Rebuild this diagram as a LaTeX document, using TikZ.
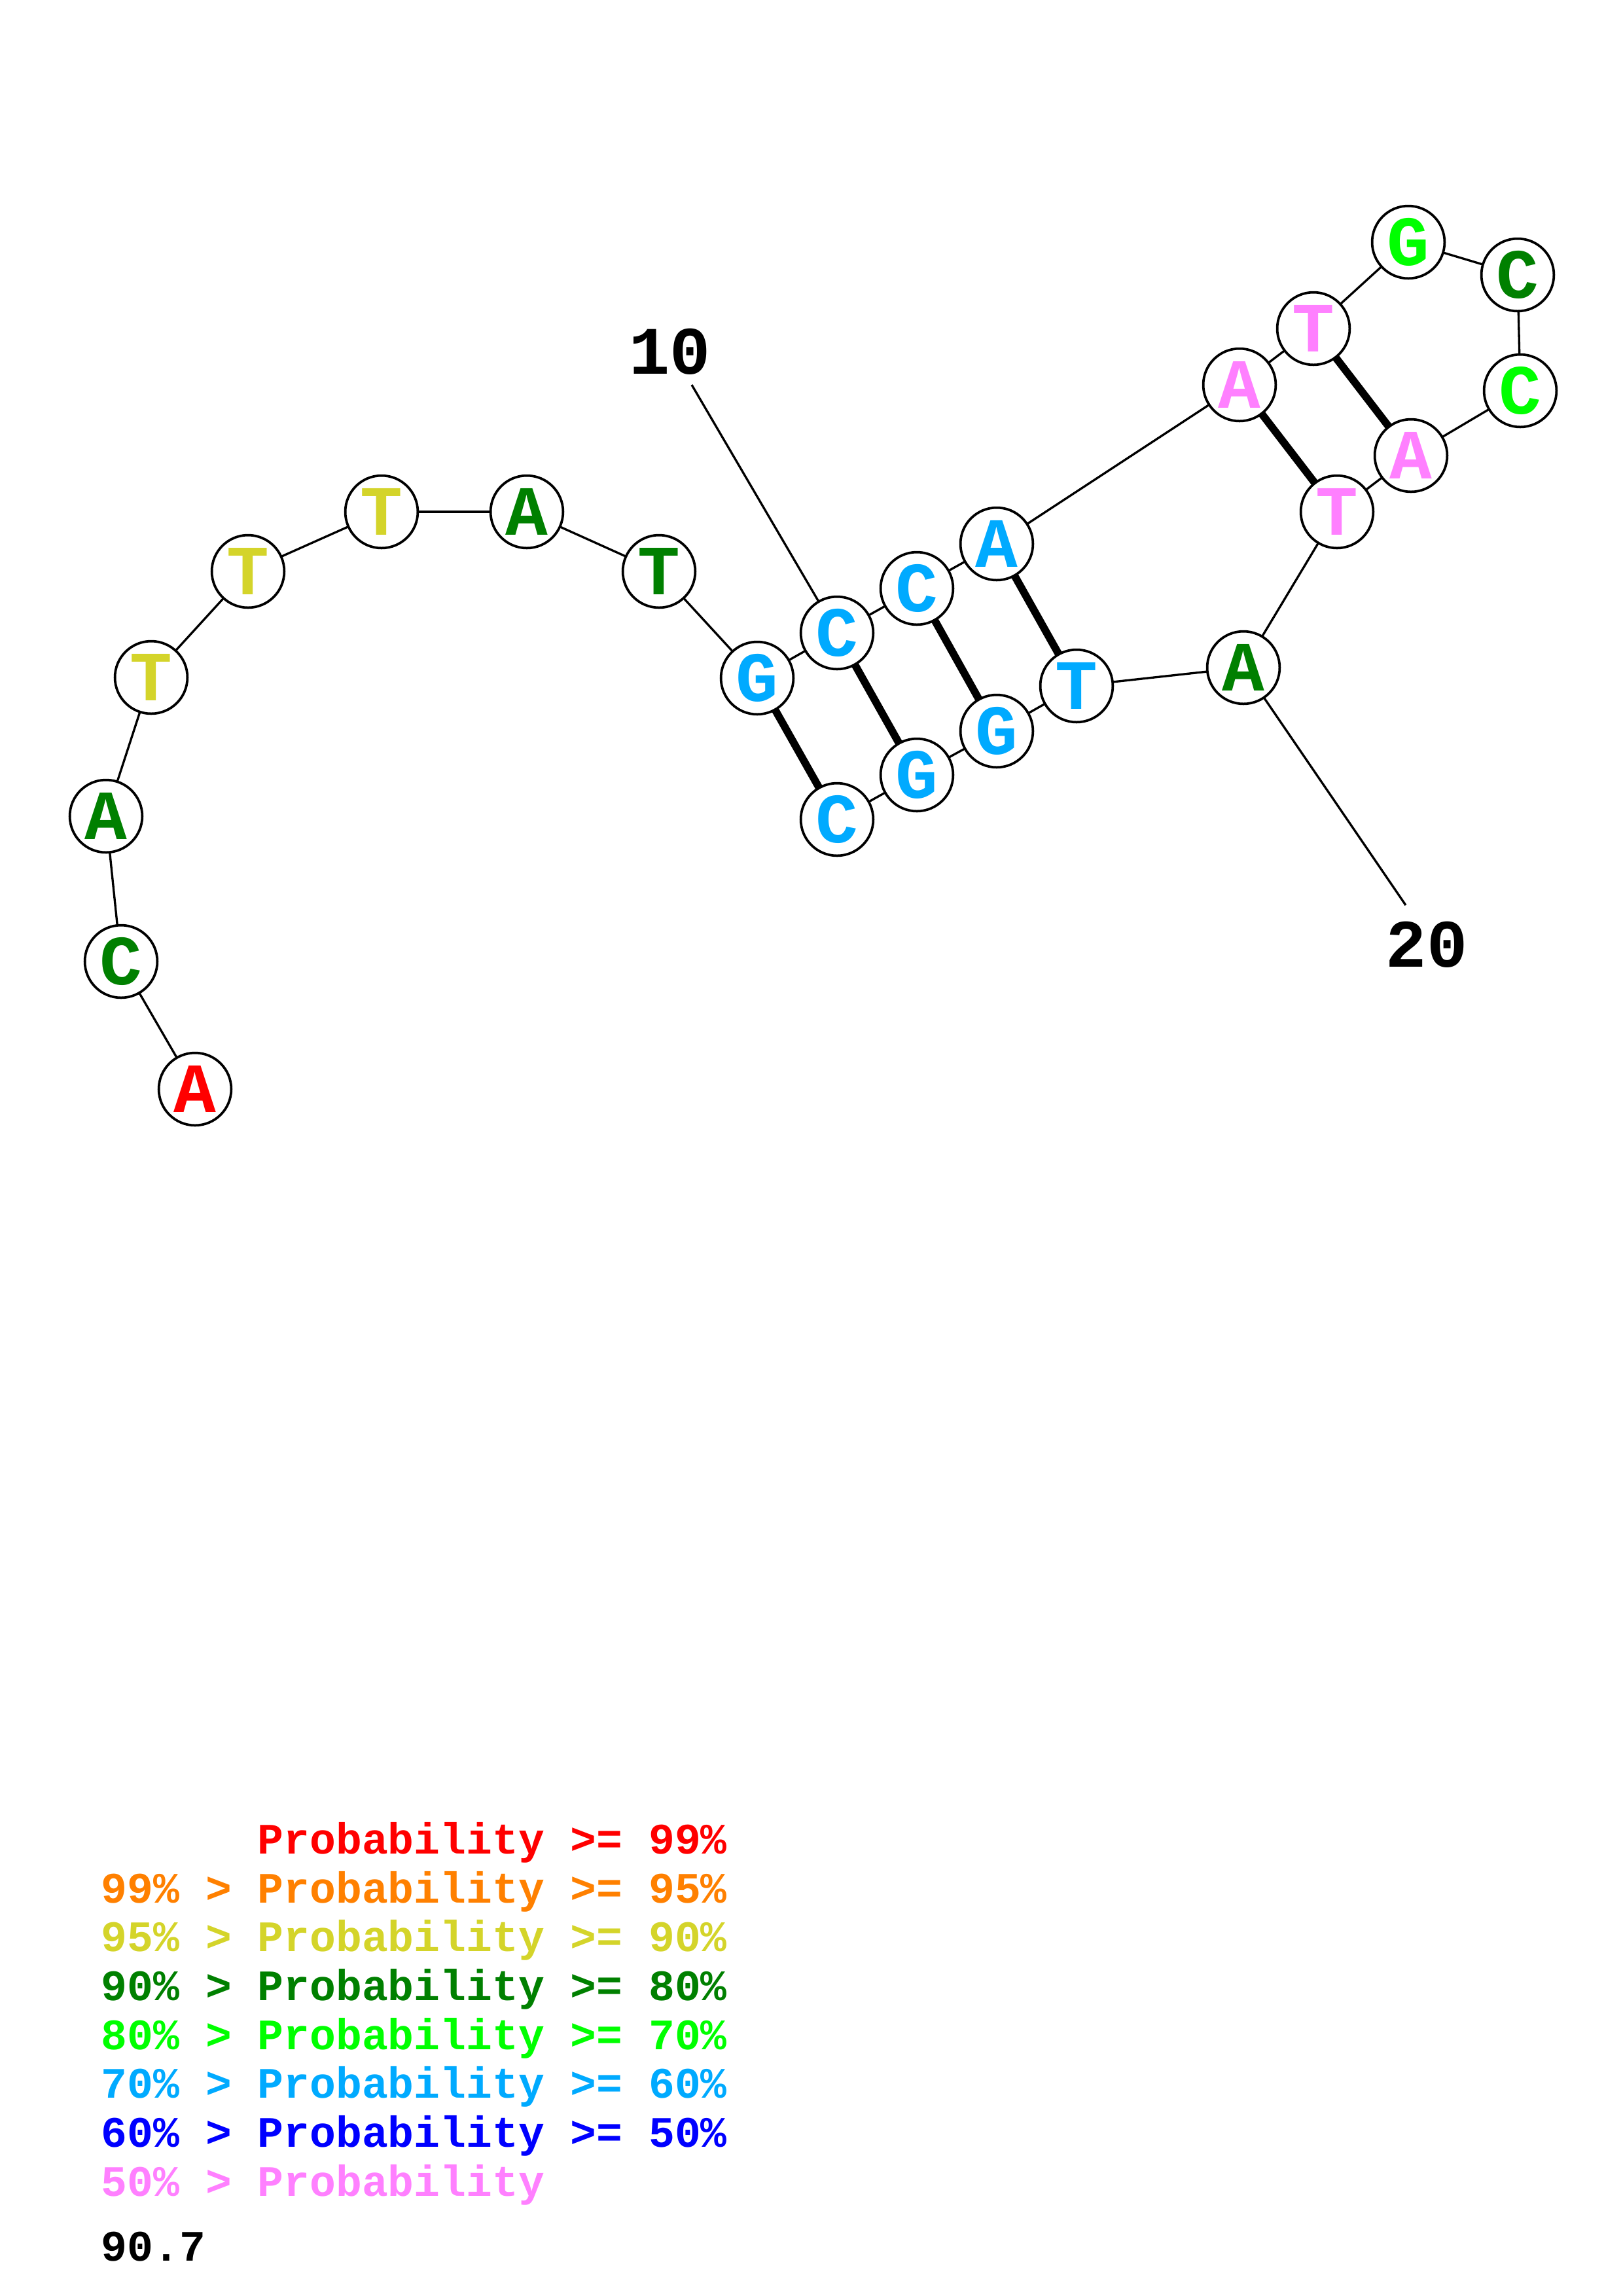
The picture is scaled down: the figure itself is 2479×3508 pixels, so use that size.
\documentclass[tikz,border=0pt]{standalone}
\usepackage{fontspec}
\setmonofont{Liberation Mono}
\definecolor{cRed}{RGB}{255,0,0}
\definecolor{cOrange}{RGB}{255,128,0}
\definecolor{cYellow}{RGB}{212,212,42}
\definecolor{cDGreen}{RGB}{0,128,0}
\definecolor{cLime}{RGB}{0,255,0}
\definecolor{cCyan}{RGB}{0,170,255}
\definecolor{cBlue}{RGB}{0,0,255}
\definecolor{cPink}{RGB}{255,128,255}
\begin{document}
\begin{tikzpicture}[x=0.24013bp,y=-0.24013bp,
  base/.style={circle,draw=black,line width=0.9bp,fill=white,minimum size=26.6bp,inner sep=0pt,
    font=\ttfamily\bfseries\fontsize{26}{26}\selectfont},
  bb/.style={line width=0.8bp},
  pair/.style={line width=2.8bp},
  numlab/.style={font=\ttfamily\bfseries\fontsize{25}{25}\selectfont},
  leg/.style={anchor=base west,inner sep=0pt,font=\ttfamily\bfseries\fontsize{16}{16}\selectfont}]
\useasboundingbox (0,0) rectangle (2479,3508);
% label lines first (behind nodes)
\node[numlab] (l10) at (1024,537) {10};
\node[numlab] (l20) at (2180,1443) {20};
\coordinate (l10e) at (1057,588);
\coordinate (l20e) at (2148,1383);
% nodes
\coordinate (p1) at (298,1664);
\coordinate (p2) at (185,1469);
\coordinate (p3) at (162,1247);
\coordinate (p4) at (231,1035);
\coordinate (p5) at (379,873);
\coordinate (p6) at (583,782);
\coordinate (p7) at (805,782);
\coordinate (p8) at (1007,873);
\coordinate (p9) at (1157,1036);
\coordinate (p10) at (1279,967);
\coordinate (p11) at (1401,899);
\coordinate (p12) at (1523,831);
\coordinate (p13) at (1894,588);
\coordinate (p14) at (2007,502);
\coordinate (p15) at (2152,370);
\coordinate (p16) at (2319,420);
\coordinate (p17) at (2323,597);
\coordinate (p18) at (2156,696);
\coordinate (p19) at (2043,782);
\coordinate (p20) at (1900,1020);
\coordinate (p21) at (1645,1048);
\coordinate (p22) at (1523,1117);
\coordinate (p23) at (1401,1184);
\coordinate (p24) at (1279,1252);
\draw[bb] (l10e) -- (p10);
\draw[bb] (l20e) -- (p20);
\foreach \i/\j in {1/2,2/3,3/4,4/5,5/6,6/7,7/8,8/9,9/10,10/11,11/12,12/13,13/14,14/15,15/16,16/17,17/18,18/19,19/20,20/21,21/22,22/23,23/24}
  \draw[bb] (p\i) -- (p\j);
\foreach \i/\j in {9/24,10/23,11/22,12/21,13/19,14/18}
  \draw[pair] (p\i) -- (p\j);
\foreach \i/\l/\c in {1/A/cRed,2/C/cDGreen,3/A/cDGreen,4/T/cYellow,5/T/cYellow,6/T/cYellow,
  7/A/cDGreen,8/T/cDGreen,9/G/cCyan,10/C/cCyan,11/C/cCyan,12/A/cCyan,13/A/cPink,14/T/cPink,
  15/G/cLime,16/C/cDGreen,17/C/cLime,18/A/cPink,19/T/cPink,20/A/cDGreen,21/T/cCyan,
  22/G/cCyan,23/G/cCyan,24/C/cCyan}
  \node[base,text=\c] (n\i) at (p\i) {\l};
% legend
\node[leg,text=cRed] (g1) at (154,2832) {\phantom{99\% > }Probability >= 99\%};
\node[leg,text=cOrange] (g2) at (154,2907) {99\% > Probability >= 95\%};
\node[leg,text=cYellow] (g3) at (154,2981) {95\% > Probability >= 90\%};
\node[leg,text=cDGreen] (g4) at (154,3056) {90\% > Probability >= 80\%};
\node[leg,text=cLime] (g5) at (154,3131) {80\% > Probability >= 70\%};
\node[leg,text=cCyan] (g6) at (154,3205) {70\% > Probability >= 60\%};
\node[leg,text=cBlue] (g7) at (154,3280) {60\% > Probability >= 50\%};
\node[leg,text=cPink] (g8) at (154,3355) {50\% > Probability};
\node[leg,text=black] (g9) at (154,3454) {90.7};
\end{tikzpicture}
\end{document}
